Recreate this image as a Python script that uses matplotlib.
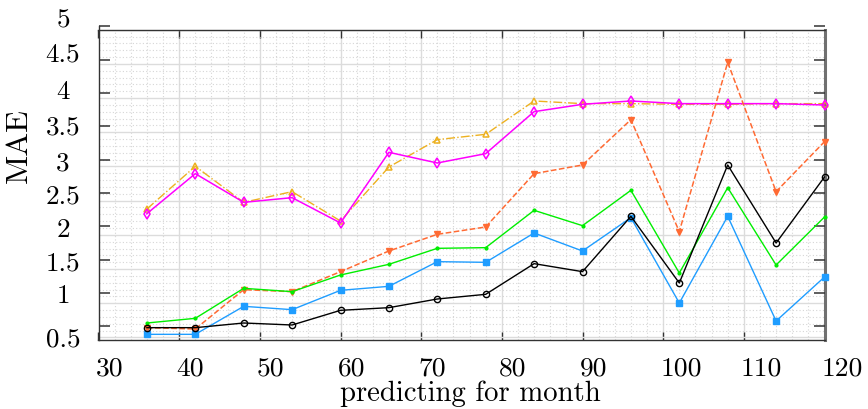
import matplotlib
matplotlib.use('Agg')
import matplotlib.pyplot as plt
from matplotlib.ticker import MultipleLocator
from matplotlib.transforms import ScaledTranslation

plt.rcParams['font.family'] = 'cmr10'
plt.rcParams['axes.formatter.use_mathtext'] = True

# data
months = [36, 42, 48, 54, 60, 66, 72, 78, 84, 90, 96, 102, 108, 114, 120]
mae_magenta = [2.19, 2.79, 2.36, 2.43, 2.05, 3.11, 2.95, 3.09, 3.72, 3.83, 3.88, 3.84, 3.84, 3.84, 3.82]
mae_gold = [2.26, 2.90, 2.36, 2.52, 2.08, 2.89, 3.30, 3.38, 3.88, 3.84, 3.84, 3.83, 3.83, 3.84, 3.84]
mae_orange = [0.48, 0.46, 1.05, 1.02, 1.32, 1.63, 1.88, 1.99, 2.79, 2.92, 3.60, 1.92, 4.46, 2.52, 3.27]
mae_green = [0.55, 0.62, 1.07, 1.02, 1.27, 1.43, 1.67, 1.68, 2.24, 2.01, 2.54, 1.30, 2.58, 1.42, 2.14]
mae_blue = [0.38, 0.38, 0.80, 0.75, 1.04, 1.10, 1.47, 1.46, 1.90, 1.63, 2.13, 0.85, 2.15, 0.58, 1.24]
mae_black = [0.48, 0.48, 0.55, 0.52, 0.74, 0.78, 0.91, 0.98, 1.44, 1.32, 2.15, 1.15, 2.92, 1.75, 2.74]

xticks = [30, 40, 50, 60, 70, 80, 90, 100, 110, 120]
yticks = [0.5, 1, 1.5, 2, 2.5, 3, 3.5, 4, 4.5, 5]
ytick_labels = ['0.5', '1', '1.5', '2', '2.5', '3', '3.5', '4', '4.5', '5']

W, H = 868, 410
fig = plt.figure(figsize=(W / 100, H / 100), dpi=100)
px = lambda x, y: ScaledTranslation(x / 100, y / 100, fig.dpi_scale_trans)

left, right = 98.5, 824.5
# grid box (the grid in the source sits on a slightly different scale than the ticks)
ax_grid = fig.add_axes([left / W, (H - 341) / H, (right - left) / W, (341 - 30.7) / H])
ax_grid.set_xlim(30, 120)
ax_grid.set_ylim(0.462, 5.0)
ax_grid.xaxis.set_minor_locator(MultipleLocator(2))
ax_grid.yaxis.set_major_locator(MultipleLocator(0.5))
ax_grid.yaxis.set_minor_locator(MultipleLocator(0.1))
ax_grid.grid(which='major', color='#dcdcdc', lw=1.0)
ax_grid.grid(which='minor', color='#d6d6d6', lw=0.8, ls=(0, (1, 2)))
ax_grid.set_axisbelow(True)
ax_grid.tick_params(axis='y', which='both', left=False, right=False, labelleft=False)
ax_grid.tick_params(axis='x', which='minor', bottom=False, top=False)
ax_grid.set_xticks(xticks, [str(v) for v in xticks])
ax_grid.tick_params(axis='x', which='major', direction='in', top=True, length=6,
                    width=1, color='#333333', labelsize=19.8, pad=11.5)
for lab in ax_grid.get_xticklabels():
    lab.set_ha('left')
    lab.set_transform(lab.get_transform() + px(-3, 0))
ax_grid.spines['left'].set_visible(False)
for s in ['top', 'bottom']:
    ax_grid.spines[s].set_color('#333333')
    ax_grid.spines[s].set_linewidth(1.0)
ax_grid.spines['right'].set_color('#707070')
ax_grid.spines['right'].set_linewidth(2.2)
ax_grid.set_xlabel('predicting for month', fontsize=20.7, va='center')
ax_grid.xaxis.set_label_coords(0.5128, -0.171)

# data axes with the labelled y scale
ax = fig.add_axes([left / W, (H - 341) / H, (right - left) / W, (341 - 27.3) / H])
ax.set_facecolor('none')
ax.set_xlim(30, 120)
ax.set_ylim(0.295, 5.0)
ax.set_xticks([])
for s in ['top', 'bottom', 'right']:
    ax.spines[s].set_visible(False)
ax.spines['left'].set_color('#333333')
ax.spines['left'].set_linewidth(1.0)
ax.set_yticks(yticks, ytick_labels)
ax.tick_params(axis='y', direction='in', left=True, right=True, length=8, width=1.1,
               color='#333333', labelsize=19.5, pad=25.6)
label_dy = [-10, 0, 0, 0, 0, 0, 2, 4, 9, 9]
for tick, dy in zip(ax.yaxis.get_major_ticks(), label_dy):
    tick.label1.set_ha('center')
    tick.label1.set_transform(tick.label1.get_transform() + px(0, dy))
ax.set_ylabel('MAE', fontsize=23, va='center')
ax.yaxis.set_label_coords(-0.1092, 0.6222)

ax.plot(months, mae_gold, color='#EDB120', ls='-.', lw=1.0, marker='^', ms=5,
        mfc='none', mew=1.1, clip_on=False)
ax.plot(months, mae_magenta, color='#ff00ff', ls='-', lw=1.1, marker='d', ms=5,
        mfc='none', mew=1.1, clip_on=False)
ax.plot(months, mae_orange, color='#ff6a33', ls='--', lw=1.1, marker='v', ms=4.5,
        clip_on=False)
ax.plot(months, mae_green, color='#00ee00', ls='-', lw=1.0, marker='.', ms=4,
        clip_on=False)
ax.plot(months, mae_blue, color='#1f9dff', ls='-', lw=1.0, marker='s', ms=4,
        clip_on=False)
ax.plot(months, mae_black, color='black', ls='-', lw=1.0, marker='o', ms=4.5,
        mfc='none', mew=1.0, clip_on=False)

fig.savefig('out.png', dpi=100)
